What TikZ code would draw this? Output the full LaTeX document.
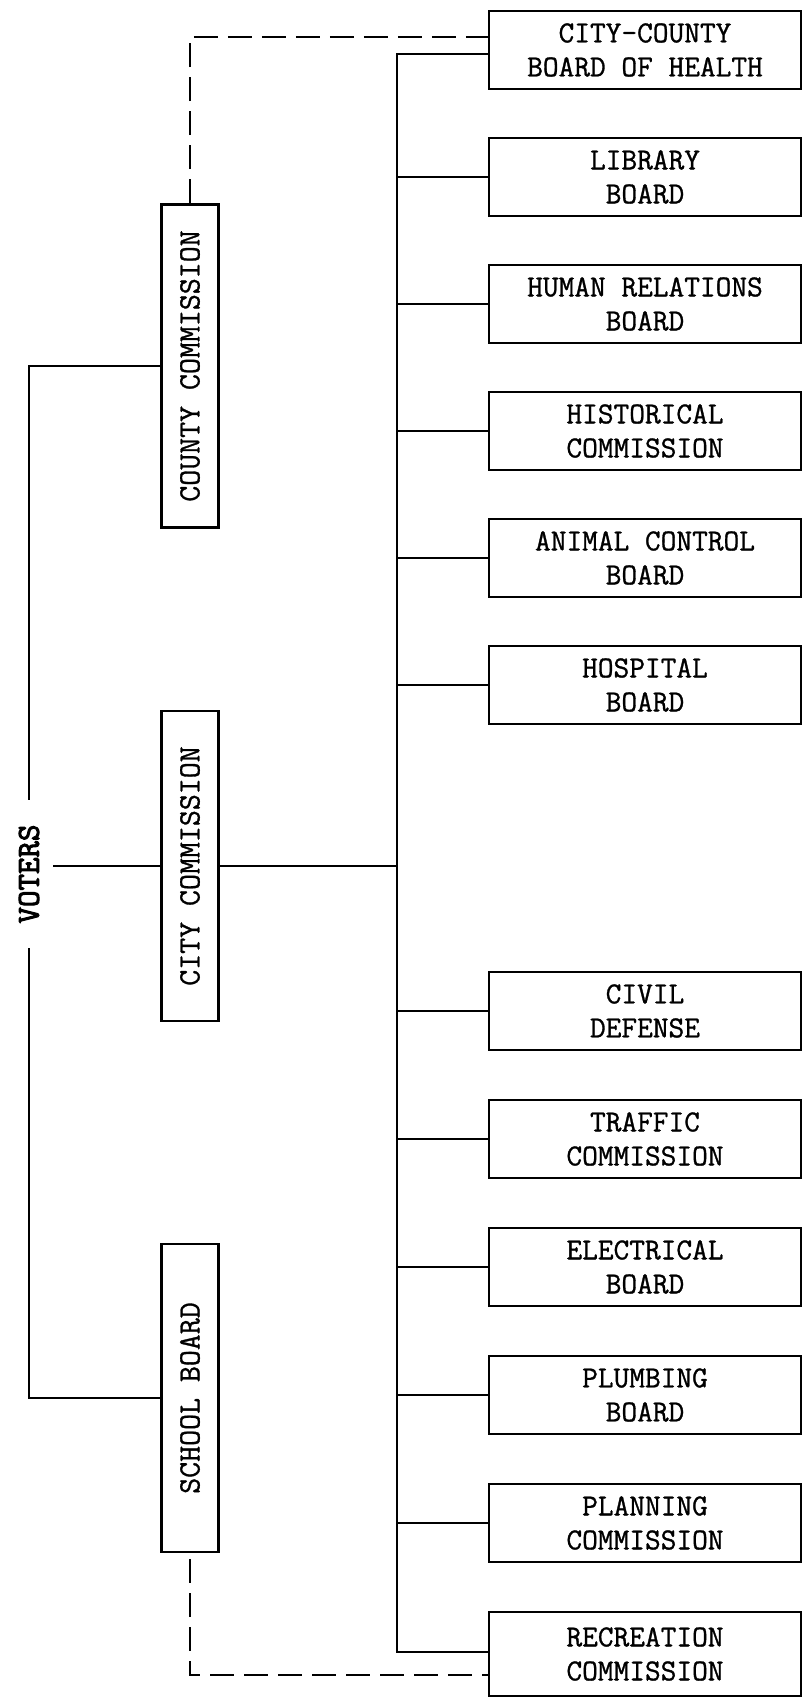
\documentclass[tikz,border=0pt]{standalone}
\usepackage{fontspec}
\usepackage{graphicx}
\usepackage{tikz}
\usetikzlibrary{positioning, calc}
\newfontfamily\typefont[FakeBold=1]{Latin Modern Mono}
\newfontfamily\boldtype[FakeBold=3]{Latin Modern Mono}
\tikzset{
    board/.style={
        rectangle,
        draw=black,
        line width=2.6pt,
        minimum width=312pt,
        minimum height=78pt,
        align=center,
        inner sep=2pt,
        font=\typefont\fontsize{30.5}{34}\selectfont
    },
    commission/.style={
        rectangle,
        draw=black,
        line width=2.6pt,
        minimum width=57pt,
        inner sep=0pt,
        font=\typefont\fontsize{31}{35}\selectfont
    },
    line/.style={
        draw,
        line width=2pt,
        color=black
    },
    dashline/.style={
        draw,
        line width=2pt,
        dash pattern=on 24pt off 10pt,
        color=black
    }
}

\begin{document}
\begin{tikzpicture}[x=1pt, y=-1pt, node distance=46.4pt]

    \useasboundingbox (0,0) rectangle (806,1702);

    % Voters
    \node (voters) [inner xsep=14pt, inner ysep=24pt, font=\boldtype\fontsize{32}{36}\selectfont] at (29,874) {\rotatebox{90}{VOTERS}};

    % Commissions
    \node (county) [commission, minimum height=323pt] at (190,366) {\rotatebox{90}{COUNTY COMMISSION}};
    \node (city) [commission, minimum height=310pt] at (190,866) {\rotatebox{90}{CITY COMMISSION}};
    \node (school) [commission, minimum height=308pt] at (190,1398) {\rotatebox{90}{SCHOOL BOARD}};

    % Boards, upper group
    \node (cchealth) [board] at (645,50) {CITY-COUNTY\\BOARD OF HEALTH};
    \node (library) [board, below=of cchealth] {LIBRARY\\BOARD};
    \node (humrel) [board, below=of library] {HUMAN RELATIONS\\BOARD};
    \node (historical) [board, below=of humrel] {HISTORICAL\\COMMISSION};
    \node (animal) [board, below=of historical] {ANIMAL CONTROL\\BOARD};
    \node (hospital) [board, below=of animal] {HOSPITAL\\BOARD};

    % Boards, lower group
    \node (civil) [board, below=245.4pt of hospital] {CIVIL\\DEFENSE};
    \node (traffic) [board, below=47.4pt of civil] {TRAFFIC\\COMMISSION};
    \node (electrical) [board, below=47.4pt of traffic] {ELECTRICAL\\BOARD};
    \node (plumbing) [board, below=47.4pt of electrical] {PLUMBING\\BOARD};
    \node (planning) [board, below=47.4pt of plumbing] {PLANNING\\COMMISSION};
    \node (recreation) [board, below=47.4pt of planning, minimum height=84pt] {RECREATION\\COMMISSION};

    \coordinate (trunk) at (397,0);
    \coordinate (recin) at ([yshift=2pt]recreation.west);

    % Connections
    \draw [line] (county.west) -| (voters.north);
    \draw [line] (school.west) -| (voters.south);
    \draw [line] (voters.east |- city.west) -- (city.west);
    \draw [line] (city.east) -- (city.east -| trunk);
    \draw [line] ([yshift=-4pt]cchealth.west) -| (recin -| trunk) -- (recin);
    \foreach \b in {library, humrel, historical, animal, hospital, civil, traffic, electrical, plumbing, planning}
        \draw [line] (\b.west) -- (\b.west -| trunk);

    % Dashed links
    \draw [dashline] (county.north) |- ([yshift=13pt]cchealth.west);
    \draw [dashline] ([yshift=-6pt]school.south) |- ([yshift=-21pt]recreation.west);

\end{tikzpicture}
\end{document}
